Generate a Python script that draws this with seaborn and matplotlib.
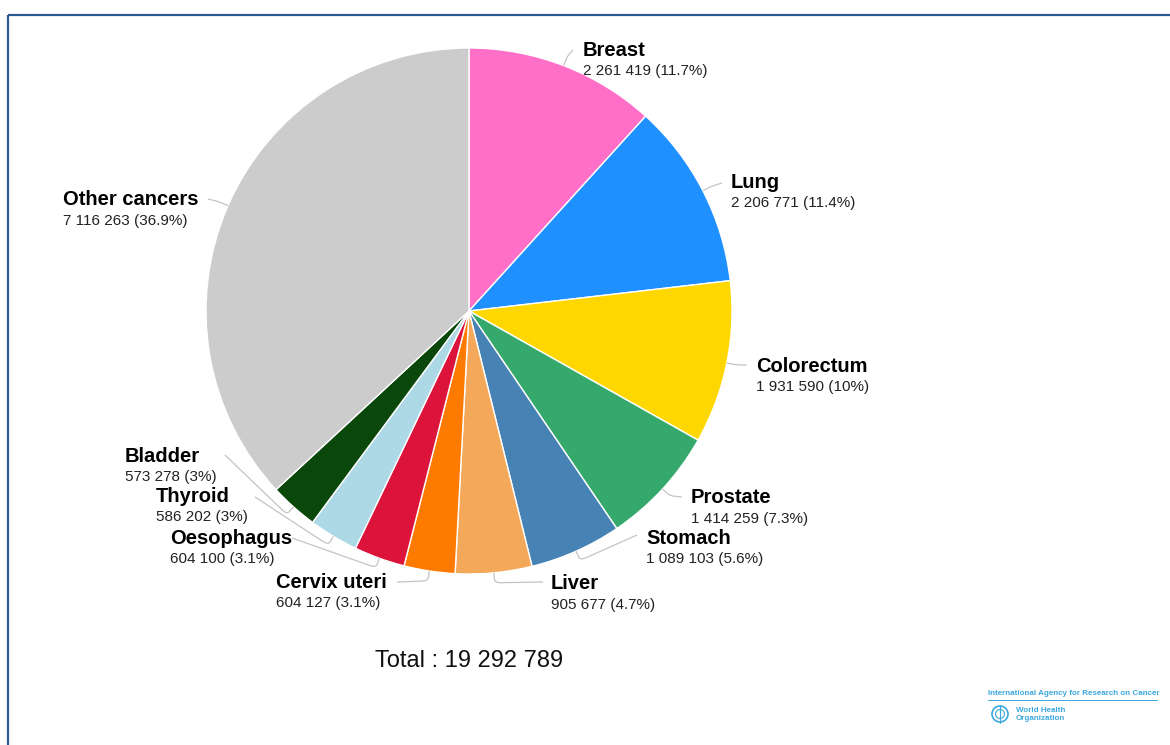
import numpy as np
import matplotlib
matplotlib.use("Agg")
import matplotlib.pyplot as plt
from matplotlib.patches import Rectangle, Circle, PathPatch
from matplotlib.path import Path
import seaborn as sns

# Estimated new cancer cases by site, both sexes, all ages
sites = ["Breast", "Lung", "Colorectum", "Prostate", "Stomach", "Liver",
         "Cervix uteri", "Oesophagus", "Thyroid", "Bladder", "Other cancers"]
cases = [2261419, 2206771, 1931590, 1414259, 1089103, 905677,
         604127, 604100, 586202, 573278, 7116263]
colors = ["#FF6EC7", "#1E90FF", "#FFD700", "#35A96B", "#4682B4", "#F4A95A",
          "#FF7B00", "#DC143C", "#ADD8E6", "#0A470A", "#CCCCCC"]

# Label layout in pixels: text x, name baseline, connector end (x, y)
label_x = [583, 731, 756, 691, 646, 551, 276, 170, 156, 125, 63]
label_base = [56, 188, 372, 503, 544, 589, 588, 544, 502, 462, 205]
conn_end = [(573, 50), (722, 183), (747, 365), (682, 497), (637, 535),
            (543, 582), (397, 582), (292, 538), (255, 497), (225, 455),
            (208, 199)]

sns.set_theme(style="white")
plt.rcParams["font.family"] = ["Liberation Sans", "DejaVu Sans"]

W, H = 1170, 745
fig = plt.figure(figsize=(W / 100, H / 100), dpi=100)
ax = fig.add_axes([0, 0, 1, 1])

cx, cy, r = 469, 311, 263
total = sum(cases)

ax.pie(cases, colors=colors, center=(cx, cy), radius=r,
       startangle=270, counterclock=True,
       wedgeprops=dict(edgecolor="white", linewidth=1.0))
ax.set_xlim(0, W)
ax.set_ylim(H, 0)
ax.set_aspect("equal")
ax.axis("off")

# mid-angle of each slice, measured clockwise from the top on screen
frac = np.array(cases) / total
mids = (np.cumsum(frac) - frac / 2) * 2 * np.pi

for i, name in enumerate(sites):
    th = mids[i]
    ex, ey = cx + r * np.sin(th), cy - r * np.cos(th)
    rx, ry = cx + (r + 10) * np.sin(th), cy - (r + 10) * np.cos(th)
    lx, ly = conn_end[i]
    # short radial stub, soft bend, then run to the label
    t = 0.35
    ax_ = (rx + (ex - rx) * t, ry + (ey - ry) * t)
    seg = np.hypot(lx - rx, ly - ry)
    k = min(6.0, seg * 0.4) / max(seg, 1e-6)
    bx_ = (rx + (lx - rx) * k, ry + (ly - ry) * k)
    path = Path([(ex, ey), ax_, (rx, ry), bx_, (lx, ly)],
                [Path.MOVETO, Path.LINETO, Path.CURVE3, Path.CURVE3, Path.LINETO])
    ax.add_patch(PathPatch(path, fill=False, edgecolor="#C4C4C4", lw=0.9))

    pct = round(cases[i] / total * 100, 1)
    value_txt = f"{cases[i]:,}".replace(",", " ") + f" ({pct:g}%)"
    ax.text(label_x[i], label_base[i], name, fontsize=14.5, fontweight="bold",
            color="#000000", va="baseline", ha="left")
    ax.text(label_x[i], label_base[i] + 19.5, value_txt, fontsize=11,
            color="#222222", va="baseline", ha="left")

ax.text(cx, 667, "Total : " + f"{total:,}".replace(",", " "), fontsize=17,
        color="#111111", ha="center", va="baseline")

# outer frame
ax.add_patch(Rectangle((8, 15), 1180, 760, fill=False, edgecolor="#2D5A92",
                       lw=1.6, clip_on=False))

# agency footer
blue = "#3DA8DF"
ax.text(988, 695, "International Agency for Research on Cancer", fontsize=5.8,
        fontweight="bold", color=blue, ha="left", va="baseline")
ax.plot([988, 1157], [700, 700], color=blue, lw=0.7)
ax.add_patch(Circle((1000, 714), 8, facecolor="none", edgecolor=blue, lw=1.2))
ax.add_patch(Circle((1000, 714), 4.5, facecolor="none", edgecolor=blue, lw=0.8))
ax.plot([1000, 1000], [705, 723], color=blue, lw=0.8)
ax.text(1016, 712, "World Health", fontsize=5.8, fontweight="bold",
        color=blue, ha="left", va="baseline")
ax.text(1016, 720, "Organization", fontsize=5.8, fontweight="bold",
        color=blue, ha="left", va="baseline")

fig.savefig("out.png", dpi=100)
